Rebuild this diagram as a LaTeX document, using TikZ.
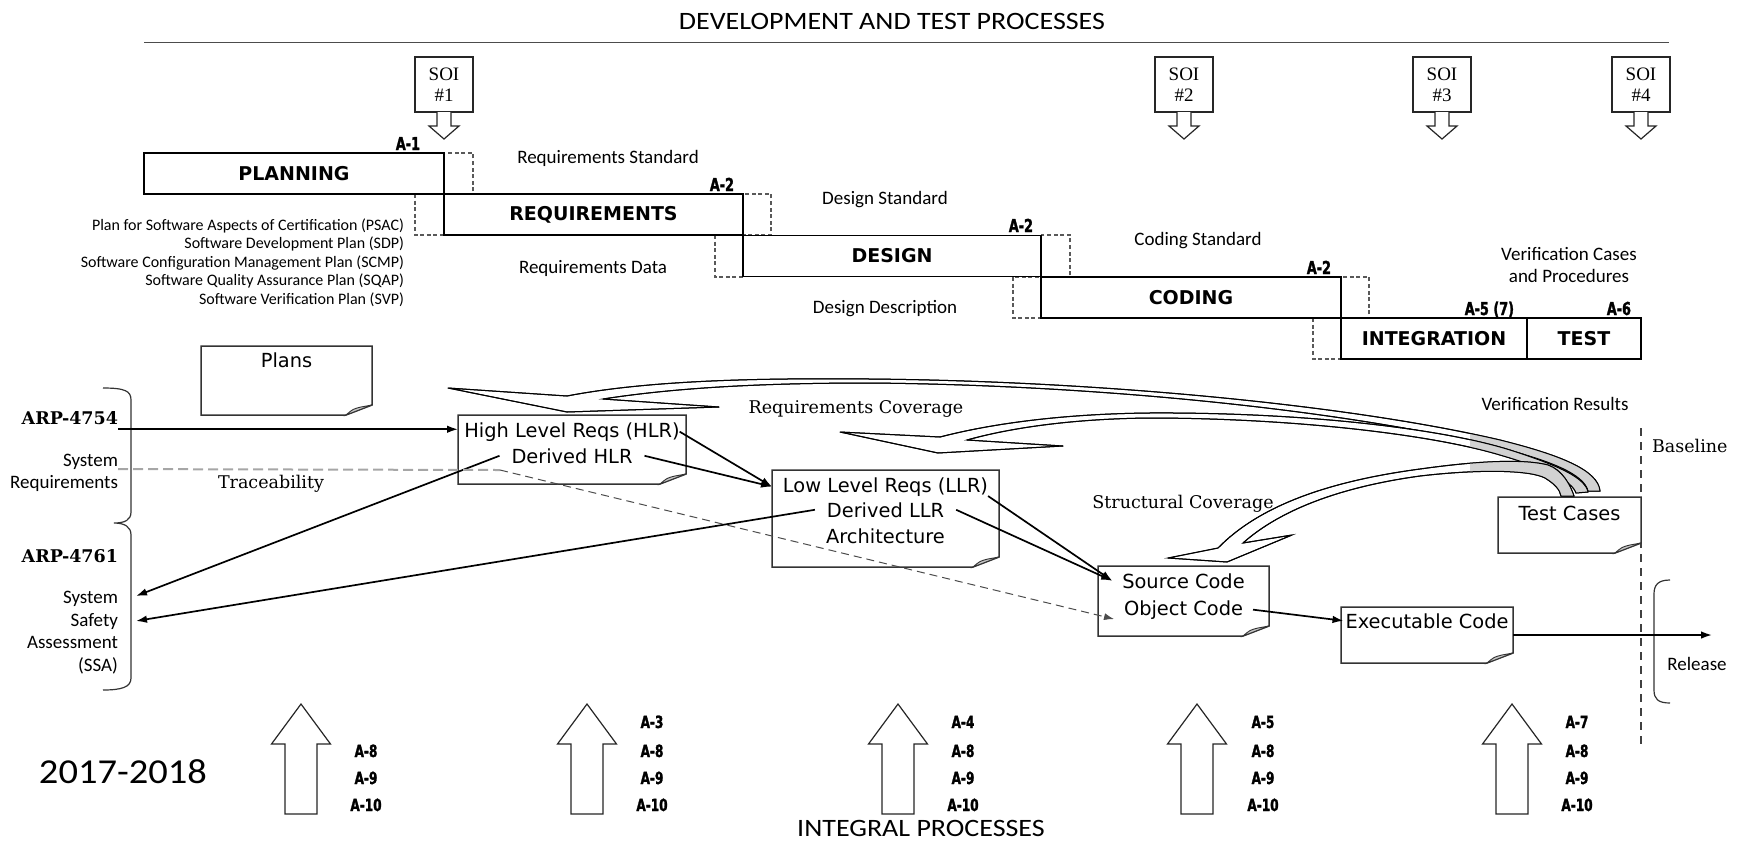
\documentclass[tikz,border=0pt]{standalone}
\usepackage{fontspec}
\setmainfont{Carlito}
\newfontfamily\widecal[FakeStretch=1.12]{Carlito}
\newfontfamily\yearfont[FakeStretch=1.1]{Carlito}
\newfontfamily\tahfont{DejaVu Sans}
\newfontfamily\serfont{DejaVu Serif}
\newfontfamily\soifont{Liberation Serif}
\newfontfamily\impfont[FakeStretch=0.72,FakeBold=1.6]{DejaVu Sans}
\usetikzlibrary{arrows.meta,fit,calc}

\tikzset{
  every node/.style={inner sep=0pt, outer sep=0pt},
  phase/.style={draw, line width=0.8pt, minimum height=20.6pt,
    font=\tahfont\bfseries\fontsize{9.5}{11}\selectfont},
  ovl/.style={draw=black!65, line width=0.6pt, dash pattern=on 2pt off 1.3pt},
  alabel/.style={font=\impfont\bfseries\fontsize{8.9}{10}\selectfont},
  blabel/.style={font=\impfont\bfseries\fontsize{8.4}{10}\selectfont, anchor=base},
  cal/.style={font=\fontsize{9.5}{11}\selectfont},
  plan/.style={font=\fontsize{8}{9}\selectfont, anchor=base east},
  arp/.style={font=\serfont\bfseries\fontsize{8.75}{10}\selectfont, anchor=base east},
  soibox/.style={draw=black!85, line width=0.7pt, minimum width=29pt, minimum height=27.5pt,
    align=center, font=\soifont\fontsize{9.5}{10.5}\selectfont},
  blockarrow/.style={draw=black!85, line width=0.6pt, fill=white, line join=miter},
  note/.style={draw=black!80, line width=0.75pt, fill=white},
  fold/.style={draw=black!80, line width=0.45pt, fill=gray!45},
  ntext/.style={font=\tahfont\fontsize{9.7}{11}\selectfont, anchor=base},
  ser/.style={font=\serfont\fontsize{8.75}{10}\selectfont},
  conn/.style={line width=0.85pt, -{Latex[length=5.5pt,width=3.8pt]}},
  ribbon/.style={draw, line width=0.5pt, fill=white, line join=round},
  brace/.style={draw=black!80, line width=0.6pt},
}

% document box with a folded bottom-right corner: name, x1, y1, x2, y2
\newcommand\notebox[5]{%
  \path (#2,#3) coordinate (#1-a) (#4,#5) coordinate (#1-b);
  \node[fit=(#1-a)(#1-b)] (#1) {};
  \draw[note] (#2,#3) -- (#4,#3) -- (#4,#5-10) -- (#4-26,#5) -- (#2,#5) -- cycle;
  \filldraw[fold] (#4-26,#5) .. controls (#4-19,#5-6) .. (#4-11,#5-8) -- (#4,#5-10) -- cycle;
}

\begin{document}
\begin{tikzpicture}[x=0.5pt,y=-0.5pt]
\useasboundingbox (0,0) rectangle (1740,842);

% ---------------- development and test processes ----------------
\node[font=\widecal\fontsize{12.5}{14}\selectfont, anchor=base] (devtitle) at (892,29)
  {DEVELOPMENT AND TEST PROCESSES};
\draw[line width=0.9pt, black!70] (144,42.5) -- (1669,42.5);

% stages of involvement
\foreach \n/\c in {1/444,2/1184,3/1442,4/1641} {
  \node[soibox] (soi\n) at (\c,84.5) {SOI\\\#\n};
  \draw[blockarrow] (\c-7,112) -- (\c-7,126) -- (\c-15,126) -- (\c,139)
    -- (\c+15,126) -- (\c+7,126) -- (\c+7,112);
}

% overlap between phases
\draw[ovl] (444,153) rectangle (473,194);
\draw[ovl] (415,194) rectangle (444,235);
\draw[ovl] (743,194) rectangle (771,235);
\draw[ovl] (715,235) rectangle (743,277);
\draw[ovl] (1041,235) rectangle (1070,277);
\draw[ovl] (1013,277) rectangle (1041,318);
\draw[ovl] (1341,277) rectangle (1369,318);
\draw[ovl] (1313,318) rectangle (1341,359);

% phases
\node[phase, minimum width=150pt]  (planning) at (294,173.5)  {PLANNING};
\node[phase, minimum width=149.5pt] (reqs)    at (593.5,214.5) {REQUIREMENTS};
\node[phase, minimum width=149pt]  (design)   at (892,256)    {DESIGN};
\node[phase, minimum width=150pt]  (coding)   at (1191,297.5) {CODING};
\node[phase, minimum width=93pt]   (integ)    at (1434,338.5) {INTEGRATION};
\node[phase, minimum width=57pt]   (test)     at (1584,338.5) {TEST};

\node[alabel, anchor=base east] (a1)  at (420,150)  {A-1};
\node[alabel, anchor=base east] (a2r) at (734,191)  {A-2};
\node[alabel, anchor=base east] (a2d) at (1033,232) {A-2};
\node[alabel, anchor=base east] (a2c) at (1331,274) {A-2};
\node[alabel, anchor=base east] (a5)  at (1514,315) {A-5 (7)};
\node[alabel, anchor=base east] (a6)  at (1631,315) {A-6};

% phase outputs
\node[cal, anchor=base] (reqstd)  at (608,163)  {Requirements Standard};
\node[cal, anchor=base] (reqdata) at (593,273)  {Requirements Data};
\node[cal, anchor=base] (desstd)  at (885,204)  {Design Standard};
\node[cal, anchor=base] (desdesc) at (885,313)  {Design Description};
\node[cal, anchor=base] (codstd)  at (1198,245) {Coding Standard};
\node[cal, anchor=base] (vcp1)    at (1569,260) {Verification Cases};
\node[cal, anchor=base] (vcp2)    at (1569,282) {and Procedures};
\node[cal, anchor=base] (vres)    at (1555,410) {Verification Results};

\node[plan] (psac) at (404,230)   {Plan for Software Aspects of Certification (PSAC)};
\node[plan] (sdp)  at (404,248.5) {Software Development Plan (SDP)};
\node[plan] (scmp) at (404,267)   {Software Configuration Management Plan (SCMP)};
\node[plan] (sqap) at (404,285.5) {Software Quality Assurance Plan (SQAP)};
\node[plan] (svp)  at (404,304)   {Software Verification Plan (SVP)};

% ---------------- system side ----------------
\node[arp] (arp54) at (118,424) {ARP-4754};
\node[cal, anchor=base east] (sysA) at (118,466) {System};
\node[cal, anchor=base east] (sysB) at (118,488) {Requirements};
\node[arp] (arp61) at (118,562) {ARP-4761};
\node[cal, anchor=base east] (ssaA) at (118,603) {System};
\node[cal, anchor=base east] (ssaB) at (118,626) {Safety};
\node[cal, anchor=base east] (ssaC) at (118,648) {Assessment};
\node[cal, anchor=base east] (ssaD) at (118,671) {(SSA)};

\draw[brace] (103,388) .. controls (125,388) and (131,391) .. (131,400) -- (131,512)
  .. controls (131,520) and (125,523) .. (114,523)
  .. controls (125,523) and (131,527) .. (131,535) -- (131,678)
  .. controls (131,687) and (122,690) .. (103,690);
\draw[brace] (1670,580) .. controls (1658,580) and (1654,585) .. (1654,594) -- (1654,690)
  .. controls (1654,699) and (1658,703) .. (1670,703);
\node[cal, anchor=base] (release) at (1697,670) {Release};

\draw[black!75, line width=0.6pt, dash pattern=on 4pt off 3pt] (1641,428) -- (1641,745);
\node[ser, anchor=base west] (baseln) at (1652,452) {Baseline};

% ---------------- life-cycle data ----------------
\notebox{plansbox}{201}{346}{372}{415}
\notebox{hlr}{458}{415}{686}{484}
\notebox{llr}{772}{470}{999}{567}
\notebox{src}{1098}{566}{1269}{636}
\notebox{exe}{1341}{607}{1513}{663}
\notebox{tcb}{1498}{497}{1641}{553}

\node[ntext] (plans) at (286.5,367) {Plans};
\node[ntext] (hlrA) at (572,437) {High Level Reqs (HLR)};
\node[ntext, inner xsep=6pt] (hlrB) at (572,463) {Derived HLR};
\node[ntext] (llrA) at (885.5,492) {Low Level Reqs (LLR)};
\node[ntext, inner xsep=6pt] (llrB) at (885.5,517) {Derived LLR};
\node[ntext] (llrC) at (885.5,543) {Architecture};
\node[ntext, inner xsep=5pt] (srcA) at (1183.5,588) {Source Code};
\node[ntext, inner xsep=5pt] (srcB) at (1183.5,615) {Object Code};
\node[ntext, inner xsep=1pt] (exeT) at (1427,628) {Executable Code};
\node[ntext] (tcT) at (1569.5,520) {Test Cases};

\node[ser, anchor=base west] (trace) at (218,488) {Traceability};
\node[ser, anchor=base] (reqcov) at (856,413) {Requirements Coverage};
\node[ser, anchor=base] (strcov) at (1183,508) {Structural Coverage};

% ---------------- connectors ----------------
\coordinate (arpout) at ([yshift=-2.5pt]arp54.south east);
\draw[conn] (arpout) -- (arpout -| hlr.west);
\coordinate (llrIn) at (llr.west |- llrA.center);
\draw[conn] (hlrA.east) -- (llrIn);
\draw[conn] (hlrB.east) -- (llrIn);
\coordinate (ssaIn1) at (136,596);
\coordinate (ssaIn2) at (136,621);
\draw[conn] (hlrB.west) -- (ssaIn1);
\draw[conn] (llrB.west) -- (ssaIn2);
\draw[conn] (llrA.south east) -- (srcA.west);
\draw[conn] (llrB.east) -- (srcA.west);

\coordinate (tr0) at (sysA.south east);
\coordinate (tr1) at (500,470);
\draw[gray!70, line width=1pt, dash pattern=on 5pt off 2.5pt] (tr0) -- (tr1);
\draw[black!70, line width=0.5pt, dash pattern=on 4pt off 2.5pt,
  -{Latex[length=5pt,width=3.5pt]}] (tr1) -- (srcB.south west);

\draw[conn] (srcB.east) -- (exeT.west);
\coordinate (relOut) at (1712,635);
\draw[conn] (exe.east) -- (relOut);

% ---------------- coverage arrows ----------------
\path[save path=\ribA] (448,388) -- (567,396)
  .. controls (650,380) and (760,378) .. (870,379)
  .. controls (1100,381) and (1350,405) .. (1500,440)
  .. controls (1560,455) and (1598,470) .. (1600,491)
  -- (1588,491)
  .. controls (1584,474) and (1550,460) .. (1492,446)
  .. controls (1340,410) and (1100,385) .. (870,383)
  .. controls (770,383) and (680,387) .. (603,399)
  -- (719,407) -- (567,412) -- cycle;
\path[save path=\ribB] (840,432) -- (940,437)
  .. controls (990,424) and (1060,414) .. (1148,413)
  .. controls (1300,412) and (1440,428) .. (1510,450)
  .. controls (1560,466) and (1585,478) .. (1588,492)
  -- (1576,493)
  .. controls (1572,481) and (1548,469) .. (1500,455)
  .. controls (1430,434) and (1290,418) .. (1148,418)
  .. controls (1070,419) and (1010,428) .. (967,440)
  -- (1063,446) -- (938,453) -- cycle;
\path[save path=\ribC] (1218,548) -- (1168,558) -- (1227,562) -- (1292,535) -- (1243,543)
  .. controls (1280,510) and (1340,487) .. (1420,476)
  .. controls (1480,469) and (1530,470) .. (1545,478)
  .. controls (1555,484) and (1560,490) .. (1561,496)
  -- (1574,496)
  .. controls (1570,484) and (1562,470) .. (1548,465)
  .. controls (1520,458) and (1470,462) .. (1420,469)
  .. controls (1330,481) and (1260,505) .. (1218,548) -- cycle;

\path[ribbon, use path=\ribA];
\begin{scope}
  \clip (1470,380) rectangle (1620,500);
  \path[fill=gray!35, use path=\ribA];
\end{scope}
\path[draw, line width=0.5pt, use path=\ribA];

\path[ribbon, use path=\ribB];
\begin{scope}
  \clip (1470,380) rectangle (1620,500);
  \path[fill=gray!35, use path=\ribB];
\end{scope}
\path[draw, line width=0.5pt, use path=\ribB];

\path[ribbon, use path=\ribC];
\begin{scope}
  \clip (1470,380) rectangle (1620,500);
  \path[fill=gray!35, use path=\ribC];
\end{scope}
\path[draw, line width=0.5pt, use path=\ribC];

% ---------------- integral processes ----------------
\foreach \c in {301,587,898,1197,1512} {
  \draw[blockarrow] (\c-16,814) -- (\c-16,744) -- (\c-29.5,744) -- (\c,704)
    -- (\c+29.5,744) -- (\c+16,744) -- (\c+16,814) -- cycle;
}
\node[blabel] (p1b) at (366,757) {A-8};
\node[blabel] (p1c) at (366,784) {A-9};
\node[blabel] (p1d) at (366,811) {A-10};
\node[blabel] (p2a) at (652,728) {A-3};
\node[blabel] (p2b) at (652,757) {A-8};
\node[blabel] (p2c) at (652,784) {A-9};
\node[blabel] (p2d) at (652,811) {A-10};
\node[blabel] (p3a) at (963,728) {A-4};
\node[blabel] (p3b) at (963,757) {A-8};
\node[blabel] (p3c) at (963,784) {A-9};
\node[blabel] (p3d) at (963,811) {A-10};
\node[blabel] (p4a) at (1263,728) {A-5};
\node[blabel] (p4b) at (1263,757) {A-8};
\node[blabel] (p4c) at (1263,784) {A-9};
\node[blabel] (p4d) at (1263,811) {A-10};
\node[blabel] (p5a) at (1577,728) {A-7};
\node[blabel] (p5b) at (1577,757) {A-8};
\node[blabel] (p5c) at (1577,784) {A-9};
\node[blabel] (p5d) at (1577,811) {A-10};

\node[font=\yearfont\fontsize{17.5}{20}\selectfont, anchor=base west] (year) at (39,783) {2017-2018};
\node[font=\widecal\fontsize{12.5}{14}\selectfont, anchor=base] (integral) at (921,836)
  {INTEGRAL PROCESSES};
\end{tikzpicture}
\end{document}
